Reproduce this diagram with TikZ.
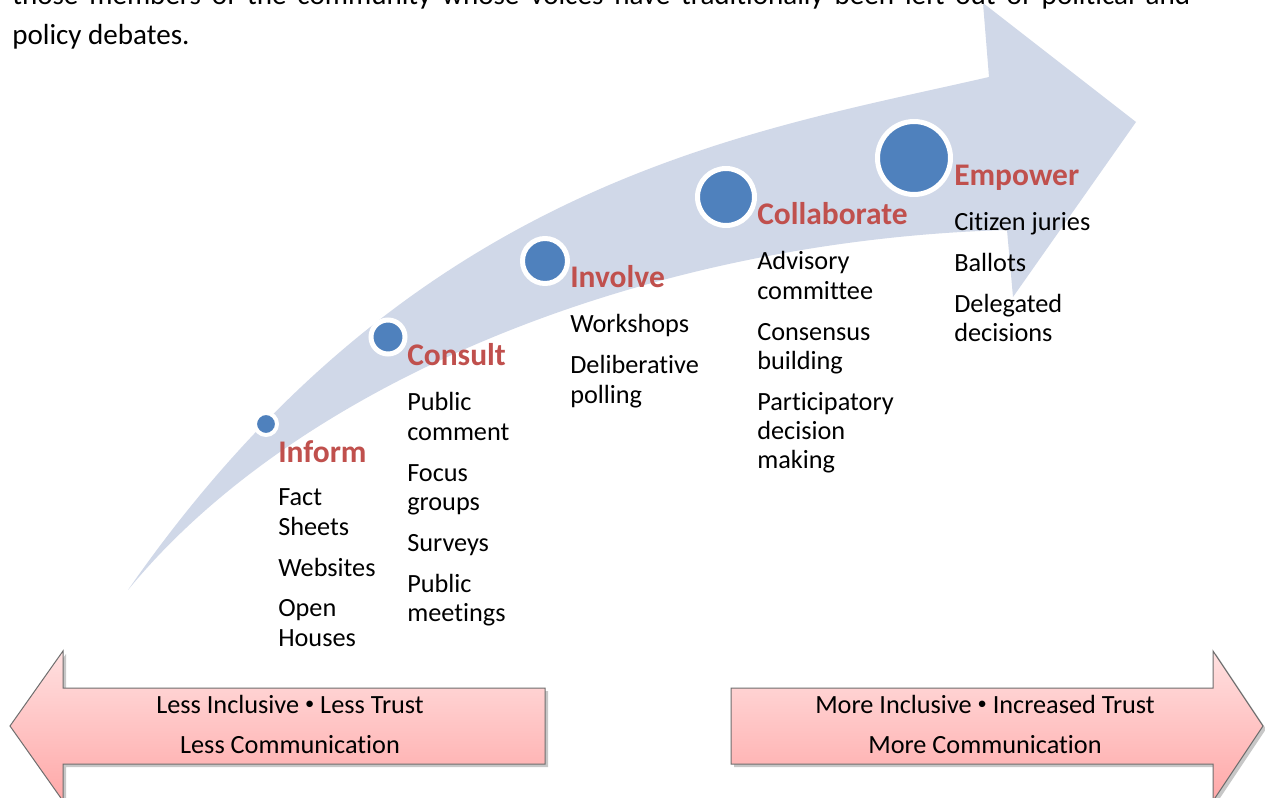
\documentclass[tikz,border=0pt]{standalone}
\usepackage{fontspec}
\setmainfont{Carlito}[Ligatures={NoCommon}]
\definecolor{bandc}{RGB}{208,216,232}
\definecolor{dotblue}{RGB}{79,129,189}
\definecolor{tred}{RGB}{192,80,77}
\definecolor{pinkT}{RGB}{255,224,224}
\definecolor{pinkB}{RGB}{255,168,168}
\definecolor{edgegray}{RGB}{110,110,110}
\newcommand\mybodyfont{\fontsize{19.7pt}{22pt}\selectfont}
\newcommand\mytitlefont{\fontsize{23.6pt}{26pt}\selectfont\bfseries}
\newcommand\mytopfont{\fontsize{21.8pt}{30pt}\selectfont}
\newcommand\mline[1]{\hbox{#1}}
\newcommand\mgap{\vskip 8.6pt}
\newcommand\itemlist[1]{\vtop{\baselineskip=22pt\lineskiplimit=-20pt #1}}
\newcommand\smallbullet{\raisebox{0.12em}{\scalebox{0.7}{•}}}
\begin{document}
\begin{tikzpicture}[x=0.75pt,y=-0.75pt]
\tikzset{
  stagetitle/.style={anchor=base west, inner sep=0pt, font=\mytitlefont, text=tred},
  stageitems/.style={anchor=base west, inner sep=0pt, font=\mybodyfont, text=black},
  stagedot/.style={circle, fill=dotblue, draw=white, inner sep=0pt},
  bartext/.style={anchor=base, inner sep=0pt, font=\mybodyfont, text=black},
  barshape/.style={draw=edgegray, line width=0.75pt, top color=pinkT, bottom color=pinkB},
  barshadow/.style={fill=black, opacity=0.22},
}
\useasboundingbox (0,0) rectangle (1265,798);
\clip (0,0) rectangle (1265,798);
\fill[white] (0,0) rectangle (1265,798);

% big curved arrow
\fill[bandc] (128,590) .. controls (413,180) and (745.5,133) .. (989,77)
  -- (983,3) -- (1136,122) -- (1013,297) -- (1007,230)
  .. controls (650,240) and (300,380) .. (128,590) -- cycle;

% top paragraph
\node[anchor=base west, inner sep=0pt, font=\mytopfont] (para1) at (12,5)
  {\makebox[883.5pt][s]{those members of the community whose voices have traditionally been left out of political and}};
\node[anchor=base west, inner sep=0pt, font=\mytopfont] (para2) at (12,45) {policy debates.};

% dots
\node[stagedot, minimum size=16.5pt, line width=3pt] (dinform) at (266,424) {};
\node[stagedot, minimum size=25.5pt, line width=3.75pt] (dconsult) at (388,337) {};
\node[stagedot, minimum size=33.75pt, line width=3.75pt] (dinvolve) at (545,261) {};
\node[stagedot, minimum size=42.75pt, line width=3.75pt] (dcollab) at (726,197) {};
\node[stagedot, minimum size=54.75pt, line width=3.75pt] (dempower) at (914,158) {};

% stage titles
\node[stagetitle] (tinform) at (278,463) {Inform};
\node[stagetitle] (tconsult) at (407,366) {Consult};
\node[stagetitle] (tinvolve) at (570,288) {Involve};
\node[stagetitle] (tcollab) at (757,225) {Collaborate};
\node[stagetitle] (tempower) at (954,186) {Empower};

% stage items
\node[stageitems] (linform) at (278,506) {\itemlist{\mline{Fact}\mline{Sheets}\mgap\mline{Websites}\mgap\mline{Open}\mline{Houses}}};
\node[stageitems] (lconsult) at (407,411) {\itemlist{\mline{Public}\mline{comment}\mgap\mline{Focus}\mline{groups}\mgap\mline{Surveys}\mgap\mline{Public}\mline{meetings}}};
\node[stageitems] (linvolve) at (570,333) {\itemlist{\mline{Workshops}\mgap\mline{Deliberative}\mline{polling}}};
\node[stageitems] (lcollab) at (757,270) {\itemlist{\mline{Advisory}\mline{committee}\mgap\mline{Consensus}\mline{building}\mgap\mline{Participatory}\mline{decision}\mline{making}}};
\node[stageitems] (lempower) at (954,231) {\itemlist{\mline{Citizen juries}\mgap\mline{Ballots}\mgap\mline{Delegated}\mline{decisions}}};

% bottom arrows: shadows
\fill[barshadow] (548,691) -- (66,691) -- (66,654) -- (13,729) -- (66,804) -- (66,767) -- (548,767) -- cycle;
\fill[barshadow] (734,691) -- (1216,691) -- (1216,654) -- (1266,729) -- (1216,804) -- (1216,767) -- (734,767) -- cycle;
% bottom arrows
\path[barshape] (545,688) -- (63,688) -- (63,651) -- (10,726) -- (63,801) -- (63,764) -- (545,764) -- cycle;
\path[barshape] (731,688) -- (1213,688) -- (1213,651) -- (1263,726) -- (1213,801) -- (1213,764) -- (731,764) -- cycle;

\node[bartext] (lessa) at (290,713) {Less Inclusive \smallbullet{} Less Trust};
\node[bartext] (lessb) at (290,753) {Less Communication};
\node[bartext] (morea) at (985,713) {More Inclusive \smallbullet{} Increased Trust};
\node[bartext] (moreb) at (985,753) {More Communication};
\end{tikzpicture}
\end{document}
